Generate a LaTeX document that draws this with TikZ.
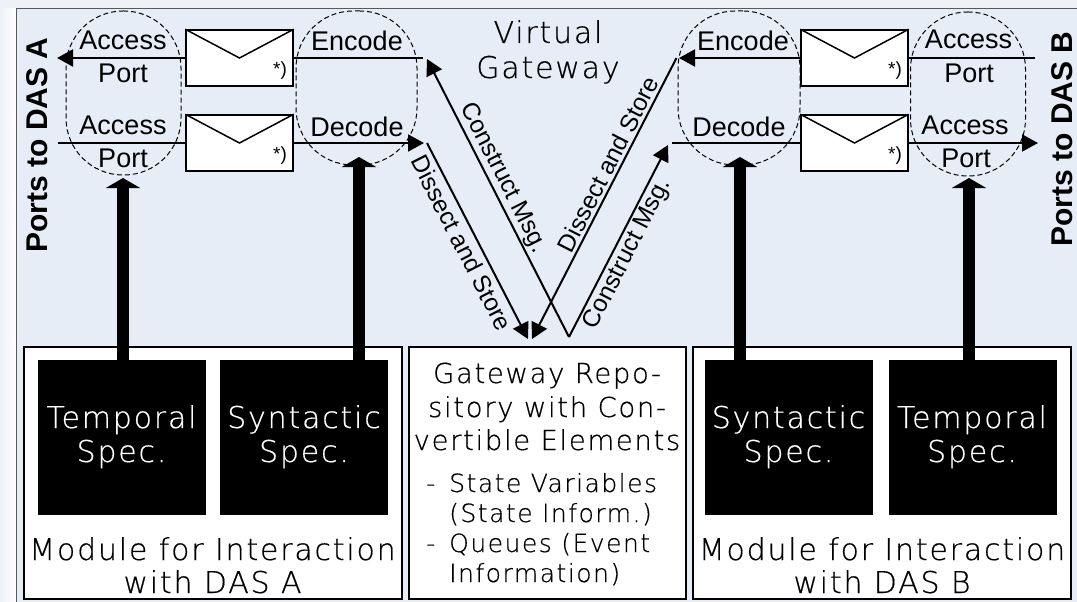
\documentclass[tikz,border=0pt]{standalone}
\usepackage{fontspec}
\setmainfont{Liberation Sans}
\newfontfamily\lightfont[LetterSpace=6,FakeBold=0.5]{DejaVu Sans ExtraLight}
\usetikzlibrary{arrows.meta}
\definecolor{panelblue}{HTML}{E6EDF7}
\definecolor{marginblue}{HTML}{EDF1F5}
\tikzset{
	lbl/.style={anchor=base,inner sep=0pt,font=\fontsize{27}{30}\selectfont},
	star/.style={inner sep=0pt,font=\fontsize{19}{22}\selectfont},
	spec/.style={anchor=base,inner sep=0pt,font=\lightfont\fontsize{30}{34}\selectfont},
	repotitle/.style={anchor=base,inner sep=0pt,font=\lightfont\fontsize{27.5}{30}\selectfont},
	repo/.style={anchor=base west,inner sep=0pt,font=\lightfont\fontsize{25}{28}\selectfont},
	sloplbl/.style={inner sep=0pt,font=\fontsize{24.5}{28}\selectfont},
	portlbl/.style={inner sep=0pt,rotate=90,font=\bfseries\fontsize{30}{32}\selectfont},
	dashblob/.style={draw,dashed,dash pattern=on 5pt off 3pt,line width=1pt,rounded corners=57pt,minimum width=#1,inner sep=0pt},
	envbox/.style={draw,line width=1.5pt,fill=white,minimum width=107pt,minimum height=56pt,inner sep=0pt},
	specbox/.style={fill=black,minimum width=168pt,minimum height=155pt,inner sep=0pt},
	modbox/.style={draw,line width=2.5pt,fill=white,inner sep=0pt},
	msgline/.style={line width=2pt},
	msgarrow/.style={line width=2pt,-{Triangle[width=17pt,length=16pt]}},
	fatarrow/.style={line width=12pt,-{Triangle[width=34pt,length=10pt]}},
}
\begin{document}
\begin{tikzpicture}[x=1pt,y=-1pt]
	\useasboundingbox (0,0) rectangle (1077,602);
	% background
	\fill[marginblue] (0,0) rectangle (1077,602);
	\shade[left color=marginblue,right color=white] (0,9) rectangle (16,602);
	\fill[panelblue] (16,9) rectangle (1077,602);
	\draw[gray!70!black,line width=1pt] (16,602)--(16,9)--(1077,9);

	% dashed port and codec groups
	\node[dashblob=115pt,minimum height=164pt] (accessA) at(123.5,93){};
	\node[dashblob=121pt,minimum height=154pt] (codecA) at(356.5,88){};
	\node[dashblob=122pt,minimum height=154pt] (codecB) at(739,88){};
	\node[dashblob=115pt,minimum height=164pt] (accessB) at(968,94){};

	% modules
	\node[modbox,minimum width=378pt,minimum height=252pt] (modA) at(213,473){};
	\node[modbox,minimum width=277pt,minimum height=252pt] (repoBox) at(547.5,473){};
	\node[modbox,minimum width=378pt,minimum height=252pt] (modB) at(882,473){};
	\node[specbox] (tempA) at(122,437.5){};
	\node[specbox] (synA) at(304,437.5){};
	\node[specbox] (synB) at(788.5,437.5){};
	\node[specbox] (tempB) at(972.5,437.5){};

	% envelopes
	\node[envbox] (envAo) at(239.5,58){};
	\node[envbox] (envAi) at(239.5,143){};
	\node[envbox] (envBo) at(854.5,58){};
	\node[envbox] (envBi) at(854.5,143){};
	\draw[line width=1.5pt](envAo.north west)--(envAo.center)--(envAo.north east);
	\draw[line width=1.5pt](envAi.north west)--(envAi.center)--(envAi.north east);
	\draw[line width=1.5pt](envBo.north west)--(envBo.center)--(envBo.north east);
	\draw[line width=1.5pt](envBi.north west)--(envBi.center)--(envBi.north east);
	\node[star] (starAo) at(280,71){*)};
	\node[star] (starAi) at(280,156){*)};
	\node[star] (starBo) at(895,71){*)};
	\node[star] (starBi) at(895,156){*)};

	% free ends of the message lines
	\coordinate (portAo) at(57,58);
	\coordinate (portAi) at(58,143);
	\coordinate (encA) at(423,58);
	\coordinate (decA) at(424,143);
	\coordinate (encB) at(679,58);
	\coordinate (decB) at(672,143);
	\coordinate (portBi) at(1035,58);
	\coordinate (portBo) at(1038,143);
	\coordinate (tipEncA) at(427,59);
	\coordinate (tailDecA) at(427,143);
	\coordinate (tipEncB) at(668,145);
	\coordinate (tailDecB) at(676.5,58);
	\coordinate (tipRepoL) at(528,339);
	\coordinate (tipRepoR) at(532,339);
	\coordinate (vertex) at(569,337);

	\draw[msgarrow](envAo.west)--(portAo);
	\draw[msgline](portAi)--(envAi.west);
	\draw[msgline](envAo.east)--(encA);
	\draw[msgarrow](envAi.east)--(decA);
	\draw[msgarrow](envBo.west)--(encB);
	\draw[msgline](decB)--(envBi.west);
	\draw[msgline](portBi)--(envBo.east);
	\draw[msgarrow](envBi.east)--(portBo);

	\draw[msgarrow](vertex)--(tipEncA);
	\draw[msgarrow](vertex)--(tipEncB);
	\draw[msgarrow](tailDecA)--(tipRepoL);
	\draw[msgarrow](tailDecB)--(tipRepoR);

	% thick arrows from the specs
	\coordinate (tipTempA) at(123,178);
	\coordinate (tipSynA) at(359,157);
	\coordinate (tipSynB) at(740,157);
	\coordinate (tipTempB) at(969,178);
	\draw[fatarrow](tipTempA |- tempA.north)--(tipTempA);
	\draw[fatarrow](tipSynA |- synA.north)--(tipSynA);
	\draw[fatarrow](tipSynB |- synB.north)--(tipSynB);
	\draw[fatarrow](tipTempB |- tempB.north)--(tipTempB);

	% labels at the ports
	\node[lbl] (accAo) at(123,50){Access};
	\node[lbl] (ptAo) at(123,83){Port};
	\node[lbl] (accAi) at(123,134){Access};
	\node[lbl] (ptAi) at(123,167){Port};
	\node[lbl] (encLblA) at(357,51){Encode};
	\node[lbl] (decLblA) at(357,136){Decode};
	\node[lbl] (encLblB) at(743,51){Encode};
	\node[lbl] (decLblB) at(739,136){Decode};
	\node[lbl] (accBo) at(968.5,49){Access};
	\node[lbl] (ptBo) at(969,83){Port};
	\node[lbl] (accBi) at(965,134){Access};
	\node[lbl] (ptBi) at(966,167){Port};
	\node[portlbl] (portsA) at(37,145){Ports to DAS A};
	\node[portlbl] (portsB) at(1062,139){Ports to DAS B};

	% labels along the V
	\node[sloplbl,rotate=-63] (cmA) at(503,178){Construct Msg.};
	\node[sloplbl,rotate=-63] (dsA) at(462,243){Dissect and Store};
	\node[sloplbl,rotate=63] (dsB) at(608,164){Dissect and Store};
	\node[sloplbl,rotate=63] (cmB) at(628,254){Construct Msg.};

	\node[spec] (vgTop) at(548,43){Virtual};
	\node[spec] (vgBot) at(548,78){Gateway};

	% spec boxes
	\node[spec,text=white] (tempAa) at(121.5,428){Temporal};
	\node[spec,text=white] (tempAb) at(121.5,462){Spec.};
	\node[spec,text=white] (synAa) at(304,428){Syntactic};
	\node[spec,text=white] (synAb) at(304,462){Spec.};
	\node[spec,text=white] (synBa) at(788.5,428){Syntactic};
	\node[spec,text=white] (synBb) at(788.5,462){Spec.};
	\node[spec,text=white] (tempBa) at(972,428){Temporal};
	\node[spec,text=white] (tempBb) at(972,462){Spec.};

	\node[spec] (modAa) at(212.5,560){Module for Interaction};
	\node[spec] (modAb) at(212.5,593){with DAS A};
	\node[spec] (modBa) at(882,560){Module for Interaction};
	\node[spec] (modBb) at(882,593){with DAS B};

	% repository
	\node[repotitle] (repoA) at(547,383){Gateway Repo-};
	\node[repotitle] (repoB) at(547,417){sitory with Con-};
	\node[repotitle] (repoC) at(547,450){vertible Elements};
	\node[repo] (dashA) at(426,492){-};
	\node[repo] (listA) at(449,492){State Variables};
	\node[repo] (listB) at(449,522){(State Inform.)};
	\node[repo] (dashB) at(426,552){-};
	\node[repo] (listC) at(449,552){Queues (Event};
	\node[repo] (listD) at(449,582){Information)};
\end{tikzpicture}
\end{document}
